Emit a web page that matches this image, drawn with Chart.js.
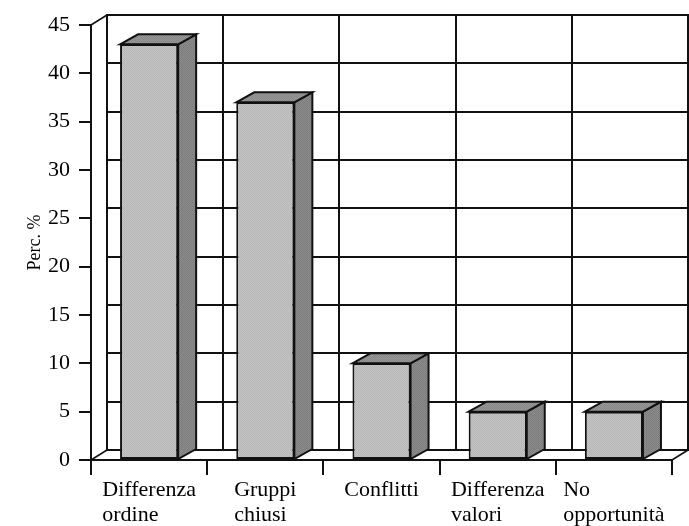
<!DOCTYPE html>
<html>
<head>
<meta charset="utf-8">
<script src="https://cdn.jsdelivr.net/npm/chart.js@4/dist/chart.umd.min.js"></script>
<style>
  html, body { margin: 0; padding: 0; background: #ffffff; }
  #wrap { width: 689px; height: 526px; position: relative; }
</style>
</head>
<body>
<div id="wrap"><canvas id="chart"></canvas></div>
<script>
// Categories (one array of lines per label) and percentage values
const categories = [
  ["Differenza", "ordine"],
  ["Gruppi", "chiusi"],
  ["Conflitti"],
  ["Differenza", "valori"],
  ["No", "opportunità"]
];
const percentages = [43, 37, 10, 5, 5];
const yTickValues = [0, 5, 10, 15, 20, 25, 30, 35, 40, 45];
const yAxisTitle = "Perc. %";

// 3D look: depth offsets of the back wall and of the bar boxes
const WALL_DX = 16, WALL_DY = -10;
const BAR_DX = 18, BAR_DY = -10;
const INK = "#111111";
const FONT_FAMILY = '"Liberation Serif", "Times New Roman", serif';

// small 2x2 checker fills for the dithered gray faces
function checker(a, b) {
  const c = document.createElement("canvas");
  c.width = 2; c.height = 2;
  const g = c.getContext("2d");
  g.fillStyle = a; g.fillRect(0, 0, 2, 2);
  g.fillStyle = b; g.fillRect(0, 0, 1, 1); g.fillRect(1, 1, 1, 1);
  return g.createPattern(c, "repeat");
}
const frontFill = checker("#c4c4c4", "#b6b6b6");
const sideFill = checker("#8c8c8c", "#7c7c7c");
const topFill = checker("#979797", "#888888");

// back wall grid, left/floor edges and the top and side faces of each bar
const depthPlugin = {
  id: "depth",
  beforeDatasetsDraw(chart) {
    const { ctx, scales: { x, y } } = chart;
    const n = chart.data.labels.length;
    const yTop = Math.round(y.getPixelForValue(yTickValues[yTickValues.length - 1]));
    const yBot = Math.round(y.getPixelForValue(yTickValues[0]));
    const xl = Math.round(x.left), xr = Math.round(x.right);
    ctx.save();
    ctx.strokeStyle = INK;
    ctx.lineWidth = 2;
    ctx.lineCap = "square";
    // horizontal lines of the back wall
    yTickValues.forEach(v => {
      const yy = Math.round(y.getPixelForValue(v)) + WALL_DY;
      ctx.beginPath();
      ctx.moveTo(xl + WALL_DX, yy);
      ctx.lineTo(xr + WALL_DX, yy);
      ctx.stroke();
    });
    // vertical lines of the back wall at category boundaries
    for (let i = 0; i <= n; i++) {
      const xx = Math.round(x.getPixelForValue(i - 0.5)) + WALL_DX;
      ctx.beginPath();
      ctx.moveTo(xx, yTop + WALL_DY);
      ctx.lineTo(xx, yBot + WALL_DY);
      ctx.stroke();
    }
    // depth edges joining the front axes to the back wall
    ctx.lineWidth = 1.5;
    ctx.lineCap = "butt";
    [[xl, yTop], [xl, yBot], [xr, yBot]].forEach(([px, py]) => {
      ctx.beginPath();
      ctx.moveTo(px, py);
      ctx.lineTo(px + WALL_DX, py + WALL_DY);
      ctx.stroke();
    });
    // top and side faces of the bars
    ctx.lineWidth = 2;
    ctx.lineJoin = "miter";
    const meta = chart.getDatasetMeta(0);
    meta.data.forEach(bar => {
      const p = bar.getProps(["x", "y", "base", "width"], true);
      const l = p.x - p.width / 2, r = p.x + p.width / 2;
      const t = p.y, b = p.base;
      ctx.fillStyle = sideFill;
      ctx.beginPath();
      ctx.moveTo(r, t);
      ctx.lineTo(r + BAR_DX, t + BAR_DY);
      ctx.lineTo(r + BAR_DX, b + BAR_DY);
      ctx.lineTo(r, b);
      ctx.closePath();
      ctx.fill();
      ctx.stroke();
      ctx.fillStyle = topFill;
      ctx.beginPath();
      ctx.moveTo(l, t);
      ctx.lineTo(l + BAR_DX, t + BAR_DY);
      ctx.lineTo(r + BAR_DX, t + BAR_DY);
      ctx.lineTo(r, t);
      ctx.closePath();
      ctx.fill();
      ctx.stroke();
    });
    ctx.restore();
  }
};

// category labels: each block centred under its category, lines left-aligned
const categoryLabels = {
  id: "categoryLabels",
  afterDraw(chart) {
    const { ctx, scales: { x } } = chart;
    ctx.save();
    ctx.font = "22px " + FONT_FAMILY;
    ctx.fillStyle = "#000000";
    ctx.textAlign = "left";
    ctx.textBaseline = "alphabetic";
    chart.data.labels.forEach((lines, i) => {
      const w = Math.max(...lines.map(s => ctx.measureText(s).width));
      const sx = x.getPixelForValue(i) - w / 2;
      lines.forEach((s, j) => ctx.fillText(s, sx, x.top + 36 + j * 25));
    });
    ctx.restore();
  }
};

Chart.defaults.font.family = FONT_FAMILY;
Chart.defaults.color = "#000000";

new Chart(document.getElementById("chart"), {
  type: "bar",
  data: {
    labels: categories,
    datasets: [{
      data: percentages,
      backgroundColor: frontFill,
      borderColor: INK,
      borderWidth: 2,
      borderSkipped: false,
      barPercentage: 0.5,
      categoryPercentage: 1.0
    }]
  },
  options: {
    responsive: true,
    maintainAspectRatio: false,
    animation: false,
    layout: { padding: { top: 25, right: 17, bottom: 0, left: 0 } },
    plugins: {
      legend: { display: false },
      tooltip: { enabled: false }
    },
    scales: {
      x: {
        offset: true,
        grid: { offset: true, drawOnChartArea: false, drawTicks: true, tickLength: 15, color: INK, lineWidth: 2 },
        border: { display: true, color: INK, width: 2 },
        ticks: { display: false },
        afterFit(scale) { scale.height = 66; }
      },
      y: {
        min: 0,
        max: 45,
        ticks: { stepSize: 5, padding: 9, font: { size: 22 }, color: "#000000" },
        grid: { drawOnChartArea: false, drawTicks: true, tickLength: 12, color: INK, lineWidth: 2 },
        border: { display: true, color: INK, width: 2 },
        title: { display: true, text: yAxisTitle, font: { size: 18 }, color: "#000000", padding: { top: 24, bottom: 0 } },
        afterFit(scale) { scale.width = 91; }
      }
    }
  },
  plugins: [depthPlugin, categoryLabels]
});
</script>
</body>
</html>
